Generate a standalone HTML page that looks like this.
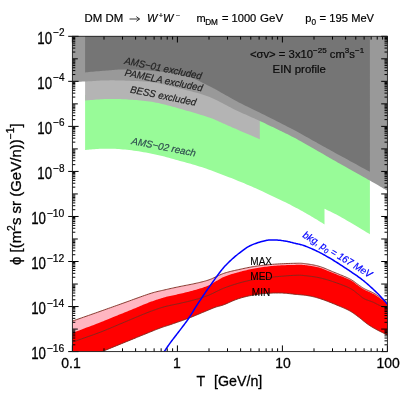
<!DOCTYPE html>
<html><head><meta charset="utf-8"><title>chart</title>
<style>html,body{margin:0;padding:0;background:#fff;width:412px;height:412px;overflow:hidden}</style>
</head><body>
<svg width="412" height="412" viewBox="0 0 412 412" style="position:absolute;left:0;top:0;will-change:transform">
<defs><clipPath id="c"><rect x="72.40" y="36.30" width="315.00" height="315.30"/></clipPath></defs>
<g clip-path="url(#c)">
<polygon fill="#98fb98" points="85.10,95.00 87.07,94.89 89.58,94.72 92.55,94.52 95.89,94.30 99.50,94.06 103.30,93.81 107.20,93.58 111.10,93.37 114.93,93.20 118.58,93.07 121.96,93.00 125.00,93.00 127.67,93.06 130.07,93.14 132.25,93.26 134.29,93.41 136.24,93.59 138.18,93.81 140.16,94.07 142.26,94.37 144.52,94.71 147.02,95.09 149.83,95.52 153.00,96.00 156.54,96.53 160.38,97.11 164.47,97.73 168.78,98.41 173.26,99.12 177.88,99.88 182.58,100.66 187.33,101.48 192.09,102.33 196.82,103.20 201.47,104.09 206.00,105.00 210.54,105.94 215.22,106.92 219.99,107.95 224.81,109.00 229.64,110.08 234.44,111.19 239.15,112.31 243.74,113.44 248.16,114.59 252.38,115.73 256.34,116.87 260.00,118.00 263.28,119.09 266.16,120.14 268.72,121.15 271.04,122.15 273.19,123.15 275.25,124.19 277.30,125.27 279.41,126.41 281.66,127.63 284.12,128.96 286.88,130.41 290.00,132.00 293.53,133.77 297.41,135.71 301.56,137.80 305.93,140.00 310.43,142.29 315.01,144.62 319.58,146.98 324.08,149.33 328.44,151.64 332.60,153.87 336.47,156.01 340.00,158.00 343.29,159.94 346.49,161.91 349.59,163.89 352.56,165.85 355.40,167.77 358.07,169.62 360.58,171.39 362.89,173.04 365.00,174.55 366.88,175.89 368.52,177.05 369.90,178.00 369.90,234.25 369.90,234.25 368.41,233.36 366.48,232.20 364.19,230.83 361.61,229.28 358.83,227.61 355.92,225.86 352.95,224.09 350.01,222.33 347.16,220.65 344.50,219.09 342.08,217.69 340.00,216.50 338.15,215.48 336.40,214.54 334.75,213.68 333.19,212.89 331.74,212.17 330.38,211.52 329.13,210.92 327.99,210.39 326.95,209.91 326.02,209.48 325.20,209.09 324.50,208.75 324.50,224.40 323.82,223.98 322.99,223.47 322.02,222.87 320.94,222.20 319.76,221.47 318.50,220.69 317.17,219.87 315.78,219.02 314.35,218.16 312.90,217.30 311.45,216.44 310.00,215.60 308.56,214.77 307.10,213.93 305.62,213.08 304.11,212.22 302.56,211.34 300.97,210.44 299.32,209.53 297.61,208.59 295.83,207.63 293.98,206.65 292.03,205.64 290.00,204.60 287.83,203.51 285.51,202.36 283.06,201.16 280.52,199.93 277.91,198.67 275.25,197.41 272.58,196.14 269.93,194.89 267.31,193.67 264.77,192.49 262.32,191.36 260.00,190.30 257.81,189.31 255.72,188.36 253.72,187.47 251.78,186.61 249.88,185.78 248.00,184.97 246.12,184.17 244.22,183.37 242.28,182.56 240.28,181.73 238.19,180.88 236.00,180.00 233.70,179.08 231.30,178.12 228.83,177.14 226.30,176.14 223.72,175.14 221.12,174.14 218.52,173.14 215.93,172.17 213.36,171.22 210.84,170.30 208.38,169.42 206.00,168.60 203.70,167.83 201.45,167.09 199.24,166.40 197.07,165.73 194.93,165.09 192.81,164.47 190.70,163.87 188.59,163.28 186.48,162.69 184.34,162.10 182.19,161.51 180.00,160.90 177.79,160.28 175.57,159.66 173.34,159.04 171.11,158.41 168.87,157.80 166.62,157.19 164.37,156.59 162.11,156.01 159.84,155.44 157.57,154.90 155.29,154.39 153.00,153.90 150.68,153.44 148.32,152.99 145.93,152.56 143.52,152.14 141.10,151.74 138.69,151.37 136.29,151.01 133.93,150.68 131.60,150.37 129.33,150.09 127.13,149.83 125.00,149.60 122.94,149.40 120.94,149.23 118.98,149.08 117.07,148.97 115.20,148.87 113.37,148.80 111.57,148.75 109.81,148.71 108.07,148.69 106.36,148.68 104.67,148.69 103.00,148.70 101.31,148.74 99.57,148.80 97.82,148.90 96.07,149.02 94.34,149.15 92.67,149.29 91.08,149.44 89.59,149.58 88.22,149.71 87.00,149.83 85.95,149.93 85.10,150.00"/>
<polygon fill="#b4b4b4" points="85.10,36.30 85.10,100.50 86.13,100.42 87.41,100.31 88.92,100.18 90.61,100.04 92.45,99.88 94.40,99.72 96.43,99.56 98.49,99.41 100.55,99.27 102.59,99.15 104.55,99.06 106.40,99.00 108.18,98.96 109.93,98.94 111.67,98.93 113.41,98.94 115.15,98.96 116.90,98.99 118.67,99.03 120.46,99.10 122.28,99.17 124.14,99.27 126.04,99.37 128.00,99.50 130.01,99.63 132.07,99.77 134.17,99.92 136.30,100.07 138.46,100.25 140.66,100.44 142.87,100.65 145.10,100.89 147.34,101.16 149.59,101.47 151.85,101.81 154.10,102.20 156.36,102.63 158.66,103.12 160.97,103.64 163.30,104.20 165.64,104.79 167.99,105.41 170.34,106.04 172.69,106.69 175.04,107.34 177.38,108.00 179.70,108.66 182.00,109.30 184.33,109.95 186.72,110.63 189.16,111.34 191.61,112.05 194.06,112.78 196.48,113.50 198.84,114.22 201.13,114.93 203.33,115.61 205.40,116.28 207.33,116.91 209.10,117.50 210.68,118.05 212.10,118.57 213.37,119.06 214.51,119.53 215.57,119.98 216.54,120.41 217.47,120.84 218.37,121.26 219.27,121.68 220.20,122.11 221.16,122.55 222.20,123.00 223.24,123.45 224.21,123.87 225.14,124.28 226.04,124.67 226.95,125.07 227.87,125.48 228.83,125.91 229.86,126.36 230.96,126.85 232.18,127.38 233.51,127.96 235.00,128.60 236.73,129.34 238.73,130.20 240.94,131.15 243.30,132.16 245.74,133.20 248.20,134.25 250.62,135.28 252.93,136.27 255.06,137.18 256.96,137.99 258.56,138.67 259.80,139.20 259.80,36.30"/>
<polygon fill="#999999" points="72.40,36.30 72.40,81.80 72.99,81.79 73.68,81.78 74.48,81.76 75.37,81.75 76.36,81.74 77.42,81.72 78.56,81.70 79.76,81.67 81.02,81.64 82.34,81.60 83.70,81.55 85.10,81.50 86.57,81.43 88.13,81.35 89.77,81.25 91.48,81.14 93.25,81.02 95.07,80.91 96.93,80.79 98.81,80.69 100.71,80.59 102.62,80.51 104.52,80.44 106.40,80.40 108.28,80.38 110.19,80.36 112.13,80.36 114.08,80.37 116.04,80.39 118.03,80.42 120.01,80.47 122.01,80.51 124.01,80.57 126.01,80.64 128.01,80.72 130.00,80.80 131.98,80.88 133.94,80.95 135.90,81.02 137.86,81.09 139.81,81.17 141.78,81.27 143.76,81.39 145.77,81.53 147.80,81.71 149.86,81.92 151.96,82.19 154.10,82.50 156.29,82.87 158.54,83.29 160.83,83.76 163.15,84.26 165.50,84.80 167.86,85.37 170.24,85.96 172.62,86.56 174.99,87.17 177.35,87.79 179.69,88.40 182.00,89.00 184.29,89.59 186.58,90.17 188.86,90.74 191.14,91.31 193.41,91.90 195.67,92.50 197.93,93.12 200.19,93.77 202.43,94.46 204.66,95.19 206.89,95.97 209.10,96.80 211.30,97.70 213.50,98.67 215.69,99.71 217.86,100.79 220.03,101.90 222.20,103.04 224.35,104.19 226.50,105.34 228.63,106.47 230.76,107.59 232.89,108.67 235.00,109.70 237.12,110.70 239.26,111.69 241.40,112.67 243.55,113.64 245.69,114.59 247.81,115.54 249.91,116.47 251.97,117.39 254.00,118.29 255.97,119.17 257.89,120.05 259.75,120.90 261.54,121.74 263.27,122.55 264.96,123.35 266.59,124.13 268.19,124.89 269.75,125.64 271.29,126.39 272.79,127.12 274.28,127.84 275.76,128.57 277.23,129.28 278.70,130.00 280.12,130.69 281.47,131.34 282.76,131.95 284.01,132.55 285.24,133.14 286.47,133.73 287.73,134.34 289.02,134.99 290.38,135.67 291.81,136.41 293.35,137.21 295.00,138.10 296.79,139.08 298.72,140.14 300.76,141.28 302.87,142.48 305.05,143.72 307.27,144.99 309.50,146.27 311.71,147.54 313.90,148.80 316.02,150.02 318.06,151.19 320.00,152.30 321.81,153.34 323.51,154.31 325.12,155.24 326.67,156.14 328.19,157.01 329.69,157.89 331.22,158.77 332.79,159.67 334.42,160.62 336.15,161.61 338.00,162.66 340.00,163.80 342.18,165.04 344.55,166.37 347.07,167.78 349.69,169.25 352.38,170.76 355.11,172.28 357.82,173.80 360.49,175.29 363.06,176.74 365.52,178.12 367.81,179.41 369.90,180.60 371.85,181.71 373.74,182.80 375.56,183.85 377.30,184.87 378.96,185.83 380.52,186.75 381.98,187.61 383.32,188.40 384.55,189.12 385.64,189.77 386.59,190.33 387.40,190.80 387.40,36.30"/>
<polygon fill="#757575" points="85.10,36.30 85.10,72.40 86.14,72.31 87.45,72.18 88.99,72.04 90.72,71.87 92.60,71.70 94.59,71.51 96.64,71.32 98.71,71.14 100.77,70.96 102.76,70.79 104.65,70.63 106.40,70.50 108.01,70.38 109.54,70.25 111.00,70.13 112.41,70.01 113.81,69.89 115.22,69.79 116.65,69.69 118.13,69.61 119.68,69.55 121.33,69.51 123.09,69.49 125.00,69.50 127.05,69.53 129.21,69.57 131.47,69.63 133.82,69.70 136.24,69.80 138.72,69.91 141.25,70.04 143.80,70.19 146.37,70.36 148.93,70.55 151.48,70.76 154.00,71.00 156.54,71.25 159.13,71.51 161.77,71.77 164.44,72.06 167.12,72.36 169.81,72.69 172.47,73.05 175.10,73.44 177.69,73.88 180.21,74.37 182.65,74.91 185.00,75.50 187.28,76.17 189.53,76.93 191.73,77.76 193.90,78.65 196.01,79.58 198.08,80.53 200.08,81.50 202.03,82.46 203.90,83.41 205.71,84.33 207.45,85.19 209.10,86.00 210.64,86.75 212.06,87.47 213.38,88.15 214.61,88.81 215.77,89.46 216.89,90.09 217.98,90.72 219.06,91.35 220.15,91.99 221.28,92.64 222.45,93.31 223.70,94.00 224.97,94.71 226.23,95.41 227.47,96.11 228.72,96.82 229.98,97.54 231.26,98.26 232.57,99.00 233.93,99.76 235.34,100.53 236.81,101.33 238.36,102.15 240.00,103.00 241.71,103.87 243.49,104.76 245.32,105.66 247.20,106.58 249.14,107.52 251.14,108.48 253.18,109.46 255.27,110.47 257.41,111.50 259.60,112.57 261.83,113.67 264.10,114.80 266.46,115.98 268.92,117.22 271.49,118.51 274.11,119.84 276.79,121.20 279.49,122.57 282.20,123.95 284.89,125.33 287.53,126.69 290.11,128.03 292.61,129.34 295.00,130.60 297.31,131.83 299.57,133.06 301.78,134.28 303.96,135.48 306.09,136.67 308.18,137.85 310.24,139.01 312.26,140.15 314.24,141.27 316.19,142.37 318.11,143.45 320.00,144.50 321.81,145.50 323.51,146.44 325.12,147.33 326.67,148.19 328.19,149.02 329.69,149.85 331.22,150.69 332.79,151.55 334.42,152.45 336.15,153.39 338.00,154.41 340.00,155.50 342.24,156.72 344.76,158.10 347.48,159.58 350.34,161.14 353.27,162.74 356.20,164.34 359.06,165.90 361.78,167.38 364.30,168.75 366.53,169.97 368.42,171.00 369.90,171.80 369.90,36.30"/>
<polygon fill="#ffb6c1" points="50.00,329.00 51.07,328.62 52.38,328.16 53.90,327.62 55.61,327.02 57.48,326.36 59.48,325.66 61.56,324.92 63.72,324.16 65.91,323.39 68.11,322.61 70.28,321.85 72.40,321.10 74.53,320.35 76.73,319.58 79.00,318.78 81.31,317.97 83.66,317.15 86.04,316.31 88.42,315.48 90.80,314.64 93.16,313.81 95.49,312.99 97.77,312.19 100.00,311.40 102.17,310.63 104.32,309.87 106.43,309.12 108.53,308.37 110.60,307.63 112.66,306.90 114.71,306.17 116.76,305.44 118.81,304.71 120.86,303.97 122.92,303.24 125.00,302.50 127.12,301.74 129.28,300.96 131.48,300.16 133.70,299.34 135.92,298.53 138.12,297.73 140.29,296.95 142.41,296.19 144.45,295.47 146.41,294.79 148.27,294.16 150.00,293.60 151.60,293.10 153.08,292.67 154.45,292.28 155.74,291.94 156.96,291.63 158.12,291.35 159.26,291.09 160.37,290.84 161.48,290.60 162.62,290.35 163.78,290.08 165.00,289.80 166.25,289.51 167.50,289.22 168.75,288.93 170.00,288.65 171.25,288.37 172.50,288.10 173.75,287.83 175.00,287.56 176.25,287.29 177.50,287.03 178.75,286.76 180.00,286.50 181.25,286.24 182.51,285.99 183.77,285.75 185.03,285.50 186.30,285.26 187.56,285.03 188.81,284.78 190.07,284.54 191.31,284.29 192.55,284.04 193.78,283.77 195.00,283.50 196.20,283.22 197.40,282.96 198.58,282.69 199.75,282.42 200.91,282.14 202.08,281.86 203.24,281.57 204.40,281.26 205.56,280.93 206.73,280.58 207.91,280.21 209.10,279.80 210.29,279.35 211.48,278.86 212.68,278.34 213.87,277.78 215.06,277.21 216.26,276.62 217.47,276.04 218.69,275.46 219.92,274.90 221.16,274.36 222.42,273.86 223.70,273.40 225.00,272.97 226.32,272.57 227.66,272.19 229.02,271.83 230.39,271.48 231.76,271.14 233.14,270.82 234.53,270.51 235.91,270.20 237.28,269.90 238.65,269.60 240.00,269.30 241.34,269.00 242.66,268.71 243.97,268.43 245.27,268.15 246.57,267.88 247.87,267.62 249.19,267.36 250.51,267.11 251.85,266.87 253.20,266.64 254.59,266.42 256.00,266.20 257.44,265.99 258.89,265.79 260.36,265.60 261.84,265.41 263.34,265.23 264.86,265.06 266.39,264.90 267.94,264.74 269.50,264.60 271.08,264.46 272.68,264.32 274.30,264.20 275.98,264.08 277.74,263.97 279.57,263.87 281.43,263.77 283.32,263.69 285.19,263.61 287.04,263.53 288.83,263.47 290.55,263.41 292.16,263.37 293.66,263.33 295.00,263.30 296.17,263.28 297.19,263.25 298.07,263.23 298.84,263.22 299.54,263.22 300.19,263.23 300.81,263.24 301.45,263.28 302.12,263.33 302.84,263.40 303.66,263.49 304.60,263.60 305.64,263.73 306.73,263.88 307.88,264.03 309.07,264.21 310.29,264.40 311.54,264.61 312.80,264.83 314.08,265.08 315.35,265.35 316.62,265.64 317.87,265.96 319.10,266.30 320.31,266.67 321.51,267.08 322.71,267.51 323.91,267.97 325.11,268.45 326.31,268.95 327.52,269.46 328.73,269.99 329.96,270.51 331.19,271.05 332.44,271.58 333.70,272.10 335.00,272.63 336.36,273.18 337.76,273.74 339.18,274.30 340.61,274.88 342.04,275.46 343.44,276.03 344.81,276.61 346.12,277.17 347.37,277.73 348.53,278.27 349.60,278.80 350.57,279.32 351.46,279.83 352.28,280.33 353.04,280.83 353.75,281.33 354.41,281.81 355.04,282.29 355.65,282.76 356.24,283.21 356.82,283.65 357.40,284.08 358.00,284.50 358.58,284.90 359.12,285.28 359.62,285.64 360.10,285.99 360.57,286.32 361.03,286.65 361.48,286.97 361.95,287.29 362.44,287.61 362.95,287.94 363.50,288.26 364.10,288.60 364.75,288.94 365.45,289.29 366.18,289.64 366.94,289.99 367.73,290.33 368.52,290.68 369.31,291.03 370.09,291.37 370.85,291.71 371.58,292.05 372.26,292.38 372.90,292.70 373.48,293.01 374.01,293.30 374.49,293.57 374.95,293.84 375.38,294.10 375.81,294.36 376.23,294.63 376.66,294.92 377.12,295.22 377.60,295.55 378.12,295.91 378.70,296.30 379.33,296.74 379.99,297.22 380.70,297.74 381.43,298.29 382.18,298.86 382.94,299.43 383.71,300.01 384.47,300.58 385.23,301.13 385.98,301.66 386.70,302.15 387.40,302.60 388.10,303.02 388.82,303.43 389.56,303.84 390.30,304.22 391.03,304.59 391.74,304.94 392.43,305.27 393.07,305.58 393.66,305.86 394.19,306.10 394.64,306.32 395.00,306.50 395.00,338.80 394.64,338.62 394.22,338.41 393.72,338.16 393.17,337.89 392.56,337.58 391.91,337.26 391.22,336.91 390.50,336.55 389.75,336.17 388.97,335.79 388.19,335.40 387.40,335.00 386.57,334.59 385.69,334.16 384.75,333.70 383.78,333.23 382.78,332.74 381.76,332.24 380.74,331.74 379.73,331.24 378.74,330.74 377.78,330.25 376.86,329.77 376.00,329.30 375.19,328.85 374.41,328.41 373.66,327.99 372.93,327.57 372.23,327.15 371.54,326.73 370.86,326.31 370.18,325.88 369.50,325.44 368.81,324.98 368.11,324.50 367.40,324.00 366.67,323.47 365.95,322.92 365.22,322.35 364.49,321.76 363.76,321.16 363.02,320.56 362.29,319.95 361.56,319.34 360.82,318.73 360.08,318.14 359.34,317.56 358.60,317.00 357.86,316.45 357.14,315.91 356.42,315.37 355.70,314.83 354.98,314.30 354.26,313.78 353.52,313.26 352.78,312.76 352.02,312.25 351.24,311.76 350.43,311.28 349.60,310.80 348.75,310.34 347.91,309.90 347.05,309.48 346.19,309.07 345.31,308.66 344.41,308.26 343.48,307.86 342.52,307.46 341.53,307.04 340.50,306.61 339.42,306.17 338.30,305.70 337.11,305.20 335.83,304.67 334.50,304.12 333.11,303.55 331.69,302.97 330.25,302.39 328.80,301.82 327.37,301.26 325.95,300.72 324.58,300.21 323.26,299.73 322.00,299.30 320.81,298.91 319.67,298.54 318.56,298.20 317.49,297.88 316.44,297.58 315.41,297.30 314.39,297.04 313.36,296.79 312.33,296.55 311.28,296.33 310.21,296.11 309.10,295.90 307.97,295.70 306.83,295.53 305.68,295.37 304.52,295.22 303.36,295.09 302.18,294.97 301.00,294.85 299.81,294.74 298.62,294.64 297.42,294.53 296.21,294.42 295.00,294.30 293.80,294.17 292.61,294.04 291.43,293.90 290.25,293.76 289.07,293.62 287.87,293.49 286.65,293.36 285.40,293.25 284.12,293.16 282.80,293.08 281.43,293.03 280.00,293.00 278.51,292.99 276.96,293.00 275.35,293.01 273.70,293.04 272.02,293.09 270.31,293.16 268.59,293.24 266.85,293.34 265.12,293.47 263.39,293.62 261.68,293.80 260.00,294.00 258.32,294.23 256.62,294.49 254.91,294.77 253.20,295.07 251.48,295.40 249.77,295.75 248.07,296.12 246.39,296.50 244.74,296.91 243.12,297.32 241.54,297.76 240.00,298.20 238.49,298.68 236.98,299.21 235.49,299.78 234.01,300.37 232.56,300.98 231.14,301.60 229.77,302.21 228.43,302.81 227.15,303.38 225.93,303.90 224.78,304.38 223.70,304.80 222.72,305.15 221.86,305.43 221.08,305.67 220.39,305.87 219.74,306.04 219.12,306.19 218.52,306.33 217.91,306.49 217.28,306.66 216.59,306.86 215.84,307.11 215.00,307.40 214.09,307.74 213.13,308.11 212.14,308.50 211.12,308.92 210.07,309.35 208.99,309.80 207.90,310.26 206.79,310.73 205.67,311.20 204.55,311.67 203.42,312.14 202.30,312.60 201.18,313.06 200.06,313.53 198.93,314.00 197.79,314.48 196.65,314.96 195.49,315.44 194.31,315.93 193.12,316.42 191.90,316.91 190.66,317.41 189.40,317.90 188.10,318.40 186.75,318.91 185.32,319.43 183.84,319.96 182.32,320.50 180.78,321.05 179.24,321.59 177.70,322.12 176.20,322.64 174.74,323.14 173.34,323.62 172.02,324.08 170.80,324.50 169.68,324.88 168.66,325.22 167.72,325.53 166.84,325.81 166.00,326.08 165.19,326.33 164.40,326.58 163.60,326.84 162.77,327.12 161.91,327.41 160.99,327.74 160.00,328.10 158.95,328.50 157.85,328.92 156.72,329.36 155.57,329.81 154.39,330.29 153.20,330.77 152.00,331.26 150.79,331.75 149.57,332.25 148.37,332.74 147.18,333.22 146.00,333.70 144.88,334.15 143.82,334.58 142.82,334.99 141.83,335.39 140.85,335.79 139.84,336.20 138.79,336.63 137.67,337.09 136.45,337.59 135.11,338.13 133.64,338.73 132.00,339.40 130.18,340.14 128.20,340.95 126.07,341.81 123.83,342.72 121.50,343.67 119.09,344.65 116.64,345.65 114.17,346.66 111.69,347.66 109.24,348.66 106.83,349.65 104.50,350.60 102.21,351.54 99.91,352.48 97.61,353.42 95.31,354.37 93.02,355.32 90.72,356.26 88.42,357.21 86.13,358.15 83.84,359.09 81.55,360.03 79.27,360.97 77.00,361.90 74.65,362.86 72.16,363.88 69.58,364.93 66.96,366.00 64.35,367.06 61.78,368.11 59.31,369.11 56.98,370.06 54.84,370.93 52.93,371.71 51.30,372.37 50.00,372.90"/>
<polygon fill="#ff0000" points="50.00,341.80 51.07,341.38 52.38,340.86 53.90,340.26 55.61,339.58 57.48,338.84 59.48,338.06 61.56,337.23 63.72,336.39 65.91,335.53 68.11,334.67 70.28,333.82 72.40,333.00 74.55,332.17 76.83,331.30 79.21,330.40 81.64,329.48 84.12,328.54 86.60,327.61 89.06,326.68 91.47,325.77 93.79,324.88 96.01,324.04 98.09,323.24 100.00,322.50 101.74,321.82 103.33,321.19 104.79,320.60 106.16,320.05 107.44,319.53 108.66,319.03 109.85,318.53 111.02,318.05 112.20,317.56 113.41,317.06 114.67,316.54 116.00,316.00 117.38,315.44 118.78,314.87 120.18,314.31 121.59,313.73 123.01,313.16 124.44,312.58 125.87,312.00 127.30,311.42 128.73,310.84 130.16,310.26 131.58,309.68 133.00,309.10 134.42,308.51 135.86,307.91 137.30,307.31 138.74,306.70 140.18,306.08 141.62,305.48 143.06,304.87 144.48,304.28 145.89,303.70 147.28,303.15 148.65,302.61 150.00,302.10 151.32,301.61 152.62,301.14 153.89,300.69 155.15,300.26 156.39,299.83 157.62,299.43 158.85,299.03 160.07,298.64 161.30,298.27 162.52,297.91 163.76,297.55 165.00,297.20 166.25,296.87 167.50,296.55 168.75,296.25 170.00,295.97 171.25,295.70 172.50,295.43 173.75,295.17 175.00,294.91 176.25,294.64 177.50,294.37 178.75,294.09 180.00,293.80 181.25,293.50 182.51,293.20 183.77,292.90 185.03,292.60 186.30,292.30 187.56,291.99 188.81,291.67 190.07,291.36 191.31,291.03 192.55,290.70 193.78,290.35 195.00,290.00 196.20,289.65 197.40,289.30 198.58,288.95 199.75,288.60 200.91,288.24 202.08,287.88 203.24,287.49 204.40,287.09 205.56,286.66 206.73,286.21 207.91,285.72 209.10,285.20 210.29,284.63 211.48,284.00 212.68,283.32 213.87,282.61 215.06,281.87 216.26,281.12 217.47,280.38 218.69,279.64 219.92,278.92 221.16,278.23 222.42,277.59 223.70,277.00 225.00,276.46 226.32,275.94 227.66,275.45 229.02,274.99 230.39,274.54 231.76,274.11 233.14,273.70 234.53,273.30 235.91,272.92 237.28,272.54 238.65,272.17 240.00,271.80 241.34,271.44 242.66,271.09 243.97,270.76 245.27,270.44 246.57,270.13 247.87,269.83 249.19,269.53 250.51,269.25 251.85,268.98 253.20,268.71 254.59,268.45 256.00,268.20 257.44,267.95 258.89,267.71 260.36,267.48 261.84,267.26 263.34,267.04 264.86,266.83 266.39,266.63 267.94,266.44 269.50,266.27 271.08,266.10 272.68,265.94 274.30,265.80 275.98,265.67 277.74,265.55 279.57,265.44 281.43,265.35 283.32,265.26 285.19,265.19 287.04,265.12 288.83,265.06 290.55,265.01 292.16,264.97 293.66,264.93 295.00,264.90 296.17,264.87 297.19,264.84 298.07,264.82 298.84,264.80 299.54,264.79 300.19,264.79 300.81,264.80 301.45,264.82 302.12,264.86 302.84,264.92 303.66,265.00 304.60,265.10 305.64,265.22 306.73,265.35 307.88,265.49 309.07,265.64 310.29,265.82 311.54,266.01 312.80,266.22 314.08,266.44 315.35,266.70 316.62,266.97 317.87,267.27 319.10,267.60 320.31,267.96 321.51,268.36 322.71,268.78 323.91,269.23 325.11,269.71 326.31,270.20 327.52,270.71 328.73,271.22 329.96,271.74 331.19,272.27 332.44,272.79 333.70,273.30 335.00,273.82 336.36,274.35 337.76,274.89 339.18,275.44 340.61,275.99 342.04,276.55 343.44,277.11 344.81,277.66 346.12,278.21 347.37,278.75 348.53,279.28 349.60,279.80 350.57,280.31 351.46,280.81 352.28,281.32 353.04,281.82 353.75,282.31 354.41,282.80 355.04,283.28 355.65,283.75 356.24,284.21 356.82,284.65 357.40,285.08 358.00,285.50 358.58,285.90 359.12,286.28 359.62,286.64 360.10,286.99 360.57,287.32 361.03,287.65 361.48,287.97 361.95,288.29 362.44,288.61 362.95,288.94 363.50,289.26 364.10,289.60 364.75,289.94 365.45,290.29 366.18,290.64 366.94,290.99 367.73,291.33 368.52,291.68 369.31,292.03 370.09,292.37 370.85,292.71 371.58,293.05 372.26,293.38 372.90,293.70 373.48,294.01 374.01,294.30 374.49,294.58 374.95,294.84 375.38,295.11 375.81,295.38 376.23,295.65 376.66,295.93 377.12,296.24 377.60,296.56 378.12,296.91 378.70,297.30 379.33,297.73 379.99,298.20 380.70,298.70 381.43,299.23 382.18,299.78 382.94,300.33 383.71,300.89 384.47,301.44 385.23,301.97 385.98,302.48 386.70,302.96 387.40,303.40 388.10,303.81 388.82,304.22 389.56,304.62 390.30,305.01 391.03,305.38 391.74,305.73 392.43,306.06 393.07,306.37 393.66,306.65 394.19,306.90 394.64,307.12 395.00,307.30 395.00,338.80 394.64,338.62 394.22,338.41 393.72,338.16 393.17,337.89 392.56,337.58 391.91,337.26 391.22,336.91 390.50,336.55 389.75,336.17 388.97,335.79 388.19,335.40 387.40,335.00 386.57,334.59 385.69,334.16 384.75,333.70 383.78,333.23 382.78,332.74 381.76,332.24 380.74,331.74 379.73,331.24 378.74,330.74 377.78,330.25 376.86,329.77 376.00,329.30 375.19,328.85 374.41,328.41 373.66,327.99 372.93,327.57 372.23,327.15 371.54,326.73 370.86,326.31 370.18,325.88 369.50,325.44 368.81,324.98 368.11,324.50 367.40,324.00 366.67,323.47 365.95,322.92 365.22,322.35 364.49,321.76 363.76,321.16 363.02,320.56 362.29,319.95 361.56,319.34 360.82,318.73 360.08,318.14 359.34,317.56 358.60,317.00 357.86,316.45 357.14,315.91 356.42,315.37 355.70,314.83 354.98,314.30 354.26,313.78 353.52,313.26 352.78,312.76 352.02,312.25 351.24,311.76 350.43,311.28 349.60,310.80 348.75,310.34 347.91,309.90 347.05,309.48 346.19,309.07 345.31,308.66 344.41,308.26 343.48,307.86 342.52,307.46 341.53,307.04 340.50,306.61 339.42,306.17 338.30,305.70 337.11,305.20 335.83,304.67 334.50,304.12 333.11,303.55 331.69,302.97 330.25,302.39 328.80,301.82 327.37,301.26 325.95,300.72 324.58,300.21 323.26,299.73 322.00,299.30 320.81,298.91 319.67,298.54 318.56,298.20 317.49,297.88 316.44,297.58 315.41,297.30 314.39,297.04 313.36,296.79 312.33,296.55 311.28,296.33 310.21,296.11 309.10,295.90 307.97,295.70 306.83,295.53 305.68,295.37 304.52,295.22 303.36,295.09 302.18,294.97 301.00,294.85 299.81,294.74 298.62,294.64 297.42,294.53 296.21,294.42 295.00,294.30 293.80,294.17 292.61,294.04 291.43,293.90 290.25,293.76 289.07,293.62 287.87,293.49 286.65,293.36 285.40,293.25 284.12,293.16 282.80,293.08 281.43,293.03 280.00,293.00 278.51,292.99 276.96,293.00 275.35,293.01 273.70,293.04 272.02,293.09 270.31,293.16 268.59,293.24 266.85,293.34 265.12,293.47 263.39,293.62 261.68,293.80 260.00,294.00 258.32,294.23 256.62,294.49 254.91,294.77 253.20,295.07 251.48,295.40 249.77,295.75 248.07,296.12 246.39,296.50 244.74,296.91 243.12,297.32 241.54,297.76 240.00,298.20 238.49,298.68 236.98,299.21 235.49,299.78 234.01,300.37 232.56,300.98 231.14,301.60 229.77,302.21 228.43,302.81 227.15,303.38 225.93,303.90 224.78,304.38 223.70,304.80 222.72,305.15 221.86,305.43 221.08,305.67 220.39,305.87 219.74,306.04 219.12,306.19 218.52,306.33 217.91,306.49 217.28,306.66 216.59,306.86 215.84,307.11 215.00,307.40 214.09,307.74 213.13,308.11 212.14,308.50 211.12,308.92 210.07,309.35 208.99,309.80 207.90,310.26 206.79,310.73 205.67,311.20 204.55,311.67 203.42,312.14 202.30,312.60 201.18,313.06 200.06,313.53 198.93,314.00 197.79,314.48 196.65,314.96 195.49,315.44 194.31,315.93 193.12,316.42 191.90,316.91 190.66,317.41 189.40,317.90 188.10,318.40 186.75,318.91 185.32,319.43 183.84,319.96 182.32,320.50 180.78,321.05 179.24,321.59 177.70,322.12 176.20,322.64 174.74,323.14 173.34,323.62 172.02,324.08 170.80,324.50 169.68,324.88 168.66,325.22 167.72,325.53 166.84,325.81 166.00,326.08 165.19,326.33 164.40,326.58 163.60,326.84 162.77,327.12 161.91,327.41 160.99,327.74 160.00,328.10 158.95,328.50 157.85,328.92 156.72,329.36 155.57,329.81 154.39,330.29 153.20,330.77 152.00,331.26 150.79,331.75 149.57,332.25 148.37,332.74 147.18,333.22 146.00,333.70 144.88,334.15 143.82,334.58 142.82,334.99 141.83,335.39 140.85,335.79 139.84,336.20 138.79,336.63 137.67,337.09 136.45,337.59 135.11,338.13 133.64,338.73 132.00,339.40 130.18,340.14 128.20,340.95 126.07,341.81 123.83,342.72 121.50,343.67 119.09,344.65 116.64,345.65 114.17,346.66 111.69,347.66 109.24,348.66 106.83,349.65 104.50,350.60 102.21,351.54 99.91,352.48 97.61,353.42 95.31,354.37 93.02,355.32 90.72,356.26 88.42,357.21 86.13,358.15 83.84,359.09 81.55,360.03 79.27,360.97 77.00,361.90 74.65,362.86 72.16,363.88 69.58,364.93 66.96,366.00 64.35,367.06 61.78,368.11 59.31,369.11 56.98,370.06 54.84,370.93 52.93,371.71 51.30,372.37 50.00,372.90"/>
<polyline fill="none" stroke="#7a2a1e" stroke-width="0.9" points="50.00,329.00 51.07,328.62 52.38,328.16 53.90,327.62 55.61,327.02 57.48,326.36 59.48,325.66 61.56,324.92 63.72,324.16 65.91,323.39 68.11,322.61 70.28,321.85 72.40,321.10 74.53,320.35 76.73,319.58 79.00,318.78 81.31,317.97 83.66,317.15 86.04,316.31 88.42,315.48 90.80,314.64 93.16,313.81 95.49,312.99 97.77,312.19 100.00,311.40 102.17,310.63 104.32,309.87 106.43,309.12 108.53,308.37 110.60,307.63 112.66,306.90 114.71,306.17 116.76,305.44 118.81,304.71 120.86,303.97 122.92,303.24 125.00,302.50 127.12,301.74 129.28,300.96 131.48,300.16 133.70,299.34 135.92,298.53 138.12,297.73 140.29,296.95 142.41,296.19 144.45,295.47 146.41,294.79 148.27,294.16 150.00,293.60 151.60,293.10 153.08,292.67 154.45,292.28 155.74,291.94 156.96,291.63 158.12,291.35 159.26,291.09 160.37,290.84 161.48,290.60 162.62,290.35 163.78,290.08 165.00,289.80 166.25,289.51 167.50,289.22 168.75,288.93 170.00,288.65 171.25,288.37 172.50,288.10 173.75,287.83 175.00,287.56 176.25,287.29 177.50,287.03 178.75,286.76 180.00,286.50 181.25,286.24 182.51,285.99 183.77,285.75 185.03,285.50 186.30,285.26 187.56,285.03 188.81,284.78 190.07,284.54 191.31,284.29 192.55,284.04 193.78,283.77 195.00,283.50 196.20,283.22 197.40,282.96 198.58,282.69 199.75,282.42 200.91,282.14 202.08,281.86 203.24,281.57 204.40,281.26 205.56,280.93 206.73,280.58 207.91,280.21 209.10,279.80 210.29,279.35 211.48,278.86 212.68,278.34 213.87,277.78 215.06,277.21 216.26,276.62 217.47,276.04 218.69,275.46 219.92,274.90 221.16,274.36 222.42,273.86 223.70,273.40 225.00,272.97 226.32,272.57 227.66,272.19 229.02,271.83 230.39,271.48 231.76,271.14 233.14,270.82 234.53,270.51 235.91,270.20 237.28,269.90 238.65,269.60 240.00,269.30 241.34,269.00 242.66,268.71 243.97,268.43 245.27,268.15 246.57,267.88 247.87,267.62 249.19,267.36 250.51,267.11 251.85,266.87 253.20,266.64 254.59,266.42 256.00,266.20 257.44,265.99 258.89,265.79 260.36,265.60 261.84,265.41 263.34,265.23 264.86,265.06 266.39,264.90 267.94,264.74 269.50,264.60 271.08,264.46 272.68,264.32 274.30,264.20 275.98,264.08 277.74,263.97 279.57,263.87 281.43,263.77 283.32,263.69 285.19,263.61 287.04,263.53 288.83,263.47 290.55,263.41 292.16,263.37 293.66,263.33 295.00,263.30 296.17,263.28 297.19,263.25 298.07,263.23 298.84,263.22 299.54,263.22 300.19,263.23 300.81,263.24 301.45,263.28 302.12,263.33 302.84,263.40 303.66,263.49 304.60,263.60 305.64,263.73 306.73,263.88 307.88,264.03 309.07,264.21 310.29,264.40 311.54,264.61 312.80,264.83 314.08,265.08 315.35,265.35 316.62,265.64 317.87,265.96 319.10,266.30 320.31,266.67 321.51,267.08 322.71,267.51 323.91,267.97 325.11,268.45 326.31,268.95 327.52,269.46 328.73,269.99 329.96,270.51 331.19,271.05 332.44,271.58 333.70,272.10 335.00,272.63 336.36,273.18 337.76,273.74 339.18,274.30 340.61,274.88 342.04,275.46 343.44,276.03 344.81,276.61 346.12,277.17 347.37,277.73 348.53,278.27 349.60,278.80 350.57,279.32 351.46,279.83 352.28,280.33 353.04,280.83 353.75,281.33 354.41,281.81 355.04,282.29 355.65,282.76 356.24,283.21 356.82,283.65 357.40,284.08 358.00,284.50 358.58,284.90 359.12,285.28 359.62,285.64 360.10,285.99 360.57,286.32 361.03,286.65 361.48,286.97 361.95,287.29 362.44,287.61 362.95,287.94 363.50,288.26 364.10,288.60 364.75,288.94 365.45,289.29 366.18,289.64 366.94,289.99 367.73,290.33 368.52,290.68 369.31,291.03 370.09,291.37 370.85,291.71 371.58,292.05 372.26,292.38 372.90,292.70 373.48,293.01 374.01,293.30 374.49,293.57 374.95,293.84 375.38,294.10 375.81,294.36 376.23,294.63 376.66,294.92 377.12,295.22 377.60,295.55 378.12,295.91 378.70,296.30 379.33,296.74 379.99,297.22 380.70,297.74 381.43,298.29 382.18,298.86 382.94,299.43 383.71,300.01 384.47,300.58 385.23,301.13 385.98,301.66 386.70,302.15 387.40,302.60 388.10,303.02 388.82,303.43 389.56,303.84 390.30,304.22 391.03,304.59 391.74,304.94 392.43,305.27 393.07,305.58 393.66,305.86 394.19,306.10 394.64,306.32 395.00,306.50"/>
<polyline fill="none" stroke="#7a2a1e" stroke-width="0.9" points="50.00,351.00 51.07,350.58 52.38,350.06 53.90,349.44 55.61,348.76 57.48,348.01 59.48,347.22 61.56,346.39 63.72,345.54 65.91,344.68 68.11,343.83 70.28,343.00 72.40,342.20 74.54,341.41 76.78,340.60 79.09,339.77 81.46,338.94 83.87,338.09 86.29,337.24 88.70,336.40 91.10,335.55 93.44,334.72 95.72,333.89 97.91,333.09 100.00,332.30 101.98,331.53 103.88,330.78 105.71,330.05 107.48,329.32 109.21,328.60 110.90,327.89 112.57,327.18 114.23,326.47 115.89,325.76 117.56,325.05 119.26,324.33 121.00,323.60 122.79,322.85 124.63,322.08 126.50,321.29 128.39,320.49 130.27,319.69 132.15,318.90 133.99,318.12 135.79,317.36 137.53,316.63 139.19,315.94 140.75,315.30 142.20,314.70 143.54,314.16 144.77,313.66 145.92,313.20 146.99,312.77 148.00,312.38 148.96,312.01 149.89,311.65 150.79,311.31 151.67,310.99 152.56,310.66 153.47,310.33 154.40,310.00 155.33,309.67 156.21,309.36 157.06,309.06 157.89,308.77 158.71,308.49 159.53,308.21 160.35,307.94 161.20,307.68 162.08,307.41 163.00,307.15 163.97,306.88 165.00,306.60 166.10,306.32 167.25,306.05 168.44,305.78 169.67,305.50 170.94,305.23 172.22,304.96 173.53,304.69 174.84,304.42 176.15,304.14 177.45,303.87 178.74,303.59 180.00,303.30 181.25,303.01 182.51,302.73 183.77,302.45 185.03,302.16 186.30,301.88 187.56,301.59 188.81,301.29 190.07,300.99 191.31,300.68 192.55,300.37 193.78,300.04 195.00,299.70 196.20,299.35 197.40,299.00 198.58,298.65 199.75,298.29 200.91,297.93 202.08,297.55 203.24,297.16 204.40,296.76 205.56,296.35 206.73,295.92 207.91,295.47 209.10,295.00 210.29,294.50 211.48,293.97 212.68,293.41 213.87,292.84 215.06,292.24 216.26,291.64 217.47,291.04 218.69,290.44 219.92,289.85 221.16,289.28 222.42,288.72 223.70,288.20 225.00,287.70 226.32,287.20 227.66,286.71 229.02,286.23 230.39,285.76 231.76,285.30 233.14,284.85 234.53,284.41 235.91,283.99 237.28,283.58 238.65,283.18 240.00,282.80 241.34,282.43 242.66,282.08 243.97,281.74 245.27,281.42 246.57,281.11 247.87,280.81 249.19,280.52 250.51,280.24 251.85,279.97 253.20,279.70 254.59,279.45 256.00,279.20 257.44,278.96 258.89,278.73 260.36,278.52 261.84,278.31 263.34,278.11 264.86,277.92 266.39,277.74 267.94,277.57 269.50,277.40 271.08,277.23 272.68,277.06 274.30,276.90 275.98,276.74 277.74,276.57 279.57,276.41 281.43,276.24 283.32,276.09 285.19,275.94 287.04,275.80 288.83,275.67 290.55,275.55 292.16,275.45 293.66,275.36 295.00,275.30 296.17,275.25 297.19,275.22 298.07,275.20 298.84,275.19 299.54,275.20 300.19,275.22 300.81,275.25 301.45,275.30 302.12,275.35 302.84,275.42 303.66,275.51 304.60,275.60 305.64,275.71 306.73,275.82 307.88,275.95 309.07,276.09 310.29,276.24 311.54,276.41 312.80,276.58 314.08,276.78 315.35,276.99 316.62,277.21 317.87,277.45 319.10,277.70 320.31,277.97 321.51,278.26 322.71,278.56 323.91,278.87 325.11,279.20 326.31,279.54 327.52,279.90 328.73,280.27 329.96,280.66 331.19,281.06 332.44,281.47 333.70,281.90 335.00,282.35 336.36,282.82 337.76,283.32 339.18,283.83 340.61,284.36 342.04,284.89 343.44,285.44 344.81,285.98 346.12,286.52 347.37,287.06 348.53,287.59 349.60,288.10 350.57,288.61 351.46,289.11 352.28,289.62 353.04,290.13 353.75,290.64 354.41,291.14 355.04,291.64 355.65,292.13 356.24,292.62 356.82,293.09 357.40,293.55 358.00,294.00 358.58,294.44 359.12,294.87 359.62,295.29 360.10,295.70 360.57,296.11 361.03,296.51 361.48,296.89 361.95,297.27 362.44,297.64 362.95,298.01 363.50,298.36 364.10,298.70 364.75,299.03 365.45,299.35 366.18,299.65 366.94,299.95 367.73,300.23 368.52,300.51 369.31,300.78 370.09,301.05 370.85,301.32 371.58,301.58 372.26,301.84 372.90,302.10 373.48,302.36 374.01,302.60 374.49,302.84 374.95,303.07 375.38,303.30 375.81,303.53 376.23,303.76 376.66,303.99 377.12,304.23 377.60,304.48 378.12,304.73 378.70,305.00 379.33,305.28 379.99,305.58 380.70,305.90 381.43,306.22 382.18,306.55 382.94,306.88 383.71,307.20 384.47,307.53 385.23,307.84 385.98,308.14 386.70,308.43 387.40,308.70 388.10,308.96 388.82,309.22 389.56,309.47 390.30,309.71 391.03,309.95 391.74,310.18 392.43,310.40 393.07,310.60 393.66,310.78 394.19,310.94 394.64,311.08 395.00,311.20"/>
<polyline fill="none" stroke="#7a2a1e" stroke-width="0.9" points="50.00,372.90 51.30,372.37 52.93,371.71 54.84,370.93 56.98,370.06 59.31,369.11 61.78,368.11 64.35,367.06 66.96,366.00 69.58,364.93 72.16,363.88 74.65,362.86 77.00,361.90 79.27,360.97 81.55,360.03 83.84,359.09 86.13,358.15 88.42,357.21 90.72,356.26 93.02,355.32 95.31,354.37 97.61,353.42 99.91,352.48 102.21,351.54 104.50,350.60 106.83,349.65 109.24,348.66 111.69,347.66 114.17,346.66 116.64,345.65 119.09,344.65 121.50,343.67 123.83,342.72 126.07,341.81 128.20,340.95 130.18,340.14 132.00,339.40 133.64,338.73 135.11,338.13 136.45,337.59 137.67,337.09 138.79,336.63 139.84,336.20 140.85,335.79 141.83,335.39 142.82,334.99 143.82,334.58 144.88,334.15 146.00,333.70 147.18,333.22 148.37,332.74 149.57,332.25 150.79,331.75 152.00,331.26 153.20,330.77 154.39,330.29 155.57,329.81 156.72,329.36 157.85,328.92 158.95,328.50 160.00,328.10 160.99,327.74 161.91,327.41 162.77,327.12 163.60,326.84 164.40,326.58 165.19,326.33 166.00,326.08 166.84,325.81 167.72,325.53 168.66,325.22 169.68,324.88 170.80,324.50 172.02,324.08 173.34,323.62 174.74,323.14 176.20,322.64 177.70,322.12 179.24,321.59 180.78,321.05 182.32,320.50 183.84,319.96 185.32,319.43 186.75,318.91 188.10,318.40 189.40,317.90 190.66,317.41 191.90,316.91 193.12,316.42 194.31,315.93 195.49,315.44 196.65,314.96 197.79,314.48 198.93,314.00 200.06,313.53 201.18,313.06 202.30,312.60 203.42,312.14 204.55,311.67 205.67,311.20 206.79,310.73 207.90,310.26 208.99,309.80 210.07,309.35 211.12,308.92 212.14,308.50 213.13,308.11 214.09,307.74 215.00,307.40 215.84,307.11 216.59,306.86 217.28,306.66 217.91,306.49 218.52,306.33 219.12,306.19 219.74,306.04 220.39,305.87 221.08,305.67 221.86,305.43 222.72,305.15 223.70,304.80 224.78,304.38 225.93,303.90 227.15,303.38 228.43,302.81 229.77,302.21 231.14,301.60 232.56,300.98 234.01,300.37 235.49,299.78 236.98,299.21 238.49,298.68 240.00,298.20 241.54,297.76 243.12,297.32 244.74,296.91 246.39,296.50 248.07,296.12 249.77,295.75 251.48,295.40 253.20,295.07 254.91,294.77 256.62,294.49 258.32,294.23 260.00,294.00 261.68,293.80 263.39,293.62 265.12,293.47 266.85,293.34 268.59,293.24 270.31,293.16 272.02,293.09 273.70,293.04 275.35,293.01 276.96,293.00 278.51,292.99 280.00,293.00 281.43,293.03 282.80,293.08 284.12,293.16 285.40,293.25 286.65,293.36 287.87,293.49 289.07,293.62 290.25,293.76 291.43,293.90 292.61,294.04 293.80,294.17 295.00,294.30 296.21,294.42 297.42,294.53 298.62,294.64 299.81,294.74 301.00,294.85 302.18,294.97 303.36,295.09 304.52,295.22 305.68,295.37 306.83,295.53 307.97,295.70 309.10,295.90 310.21,296.11 311.28,296.33 312.33,296.55 313.36,296.79 314.39,297.04 315.41,297.30 316.44,297.58 317.49,297.88 318.56,298.20 319.67,298.54 320.81,298.91 322.00,299.30 323.26,299.73 324.58,300.21 325.95,300.72 327.37,301.26 328.80,301.82 330.25,302.39 331.69,302.97 333.11,303.55 334.50,304.12 335.83,304.67 337.11,305.20 338.30,305.70 339.42,306.17 340.50,306.61 341.53,307.04 342.52,307.46 343.48,307.86 344.41,308.26 345.31,308.66 346.19,309.07 347.05,309.48 347.91,309.90 348.75,310.34 349.60,310.80 350.43,311.28 351.24,311.76 352.02,312.25 352.78,312.76 353.52,313.26 354.26,313.78 354.98,314.30 355.70,314.83 356.42,315.37 357.14,315.91 357.86,316.45 358.60,317.00 359.34,317.56 360.08,318.14 360.82,318.73 361.56,319.34 362.29,319.95 363.02,320.56 363.76,321.16 364.49,321.76 365.22,322.35 365.95,322.92 366.67,323.47 367.40,324.00 368.11,324.50 368.81,324.98 369.50,325.44 370.18,325.88 370.86,326.31 371.54,326.73 372.23,327.15 372.93,327.57 373.66,327.99 374.41,328.41 375.19,328.85 376.00,329.30 376.86,329.77 377.78,330.25 378.74,330.74 379.73,331.24 380.74,331.74 381.76,332.24 382.78,332.74 383.78,333.23 384.75,333.70 385.69,334.16 386.57,334.59 387.40,335.00 388.19,335.40 388.97,335.79 389.75,336.17 390.50,336.55 391.22,336.91 391.91,337.26 392.56,337.58 393.17,337.89 393.72,338.16 394.22,338.41 394.64,338.62 395.00,338.80"/>
<polyline fill="none" stroke="#0000ff" stroke-width="1.5" points="156.00,364.00 156.42,363.37 156.95,362.56 157.58,361.61 158.29,360.54 159.05,359.39 159.86,358.17 160.68,356.92 161.51,355.67 162.33,354.44 163.11,353.27 163.84,352.18 164.50,351.20 165.10,350.32 165.66,349.48 166.19,348.69 166.70,347.94 167.20,347.21 167.69,346.49 168.17,345.79 168.66,345.09 169.16,344.37 169.68,343.64 170.23,342.89 170.80,342.10 171.40,341.29 172.01,340.48 172.63,339.66 173.26,338.84 173.90,338.01 174.56,337.17 175.22,336.32 175.90,335.45 176.58,334.56 177.28,333.66 177.98,332.74 178.70,331.80 179.43,330.84 180.18,329.86 180.94,328.87 181.72,327.86 182.51,326.83 183.30,325.79 184.10,324.74 184.90,323.66 185.71,322.57 186.51,321.47 187.31,320.34 188.10,319.20 188.89,318.03 189.68,316.83 190.47,315.60 191.26,314.35 192.05,313.08 192.84,311.80 193.64,310.51 194.43,309.23 195.22,307.95 196.02,306.68 196.81,305.43 197.60,304.20 198.41,302.96 199.24,301.69 200.10,300.40 200.96,299.10 201.83,297.81 202.68,296.53 203.52,295.29 204.33,294.09 205.10,292.95 205.82,291.88 206.49,290.89 207.10,290.00 207.62,289.24 208.05,288.62 208.40,288.11 208.70,287.69 208.96,287.32 209.20,286.98 209.44,286.65 209.70,286.29 210.00,285.89 210.35,285.40 210.78,284.82 211.30,284.10 211.91,283.24 212.60,282.27 213.36,281.21 214.16,280.08 215.00,278.89 215.86,277.68 216.74,276.46 217.61,275.26 218.46,274.09 219.29,272.97 220.07,271.94 220.80,271.00 221.47,270.16 222.11,269.38 222.71,268.65 223.29,267.97 223.85,267.33 224.40,266.71 224.95,266.11 225.51,265.51 226.09,264.92 226.69,264.30 227.33,263.67 228.00,263.00 228.70,262.31 229.42,261.61 230.15,260.91 230.90,260.20 231.66,259.49 232.44,258.78 233.24,258.07 234.06,257.35 234.89,256.64 235.74,255.92 236.61,255.21 237.50,254.50 238.41,253.78 239.34,253.04 240.29,252.30 241.25,251.54 242.24,250.79 243.24,250.04 244.26,249.30 245.29,248.58 246.35,247.89 247.41,247.22 248.50,246.59 249.60,246.00 250.74,245.44 251.93,244.91 253.16,244.39 254.41,243.90 255.69,243.43 256.97,242.98 258.24,242.56 259.50,242.17 260.72,241.81 261.90,241.47 263.03,241.17 264.10,240.90 265.10,240.67 266.03,240.47 266.92,240.31 267.76,240.18 268.58,240.08 269.38,240.00 270.16,239.95 270.95,239.91 271.75,239.89 272.56,239.89 273.41,239.89 274.30,239.90 275.23,239.93 276.19,239.97 277.18,240.04 278.19,240.13 279.21,240.24 280.22,240.36 281.24,240.49 282.24,240.62 283.23,240.76 284.19,240.91 285.11,241.06 286.00,241.20 286.84,241.35 287.65,241.50 288.43,241.66 289.18,241.83 289.91,242.00 290.63,242.17 291.34,242.36 292.06,242.54 292.77,242.73 293.50,242.92 294.24,243.11 295.00,243.30 295.76,243.48 296.51,243.65 297.24,243.81 297.97,243.96 298.71,244.12 299.46,244.28 300.22,244.46 301.01,244.66 301.84,244.89 302.71,245.15 303.63,245.45 304.60,245.80 305.64,246.19 306.73,246.62 307.88,247.08 309.07,247.57 310.29,248.09 311.54,248.64 312.80,249.20 314.08,249.78 315.35,250.38 316.62,250.98 317.87,251.59 319.10,252.20 320.31,252.82 321.51,253.45 322.70,254.09 323.90,254.74 325.09,255.41 326.29,256.09 327.49,256.78 328.70,257.49 329.93,258.22 331.17,258.96 332.42,259.72 333.70,260.50 335.01,261.30 336.34,262.14 337.71,263.00 339.09,263.88 340.48,264.78 341.88,265.69 343.28,266.60 344.67,267.52 346.04,268.43 347.39,269.34 348.71,270.23 350.00,271.10 351.25,271.95 352.47,272.78 353.67,273.59 354.84,274.39 356.01,275.18 357.16,275.98 358.30,276.79 359.44,277.61 360.59,278.46 361.75,279.34 362.91,280.25 364.10,281.20 365.32,282.21 366.57,283.27 367.85,284.38 369.15,285.53 370.45,286.69 371.74,287.87 373.01,289.04 374.25,290.21 375.45,291.35 376.60,292.45 377.69,293.50 378.70,294.50 379.66,295.47 380.59,296.45 381.49,297.43 382.36,298.39 383.18,299.33 383.96,300.23 384.69,301.09 385.36,301.89 385.98,302.62 386.52,303.27 387.00,303.84 387.40,304.30"/>
</g>
<path d="M72.40 351.60 v-6.2 M72.40 36.30 v6.2 M104.01 351.60 v-3.3 M104.01 36.30 v3.3 M122.50 351.60 v-3.3 M122.50 36.30 v3.3 M135.62 351.60 v-3.3 M135.62 36.30 v3.3 M145.79 351.60 v-3.3 M145.79 36.30 v3.3 M154.11 351.60 v-3.3 M154.11 36.30 v3.3 M161.14 351.60 v-3.3 M161.14 36.30 v3.3 M167.22 351.60 v-3.3 M167.22 36.30 v3.3 M172.60 351.60 v-3.3 M172.60 36.30 v3.3 M177.40 351.60 v-6.2 M177.40 36.30 v6.2 M209.01 351.60 v-3.3 M209.01 36.30 v3.3 M227.50 351.60 v-3.3 M227.50 36.30 v3.3 M240.62 351.60 v-3.3 M240.62 36.30 v3.3 M250.79 351.60 v-3.3 M250.79 36.30 v3.3 M259.11 351.60 v-3.3 M259.11 36.30 v3.3 M266.14 351.60 v-3.3 M266.14 36.30 v3.3 M272.22 351.60 v-3.3 M272.22 36.30 v3.3 M277.60 351.60 v-3.3 M277.60 36.30 v3.3 M282.40 351.60 v-6.2 M282.40 36.30 v6.2 M314.01 351.60 v-3.3 M314.01 36.30 v3.3 M332.50 351.60 v-3.3 M332.50 36.30 v3.3 M345.62 351.60 v-3.3 M345.62 36.30 v3.3 M355.79 351.60 v-3.3 M355.79 36.30 v3.3 M364.11 351.60 v-3.3 M364.11 36.30 v3.3 M371.14 351.60 v-3.3 M371.14 36.30 v3.3 M377.22 351.60 v-3.3 M377.22 36.30 v3.3 M382.60 351.60 v-3.3 M382.60 36.30 v3.3 M387.40 351.60 v-6 M387.40 36.30 v6 M68.20 351.60 h10.4 M387.40 351.60 h-6.2 M72.40 344.82 h2.9 M387.40 344.82 h-2.9 M72.40 340.85 h2.9 M387.40 340.85 h-2.9 M72.40 338.04 h2.9 M387.40 338.04 h-2.9 M72.40 335.86 h2.9 M387.40 335.86 h-2.9 M72.40 334.07 h2.9 M387.40 334.07 h-2.9 M72.40 332.57 h2.9 M387.40 332.57 h-2.9 M72.40 331.26 h2.9 M387.40 331.26 h-2.9 M72.40 330.11 h2.9 M387.40 330.11 h-2.9 M72.40 329.08 h5.4 M387.40 329.08 h-6.2 M72.40 322.30 h2.9 M387.40 322.30 h-2.9 M72.40 318.33 h2.9 M387.40 318.33 h-2.9 M72.40 315.52 h2.9 M387.40 315.52 h-2.9 M72.40 313.34 h2.9 M387.40 313.34 h-2.9 M72.40 311.55 h2.9 M387.40 311.55 h-2.9 M72.40 310.05 h2.9 M387.40 310.05 h-2.9 M72.40 308.74 h2.9 M387.40 308.74 h-2.9 M72.40 307.59 h2.9 M387.40 307.59 h-2.9 M68.20 306.56 h10.4 M387.40 306.56 h-6.2 M72.40 299.78 h2.9 M387.40 299.78 h-2.9 M72.40 295.81 h2.9 M387.40 295.81 h-2.9 M72.40 293.00 h2.9 M387.40 293.00 h-2.9 M72.40 290.82 h2.9 M387.40 290.82 h-2.9 M72.40 289.03 h2.9 M387.40 289.03 h-2.9 M72.40 287.52 h2.9 M387.40 287.52 h-2.9 M72.40 286.22 h2.9 M387.40 286.22 h-2.9 M72.40 285.07 h2.9 M387.40 285.07 h-2.9 M72.40 284.04 h5.4 M387.40 284.04 h-6.2 M72.40 277.26 h2.9 M387.40 277.26 h-2.9 M72.40 273.29 h2.9 M387.40 273.29 h-2.9 M72.40 270.48 h2.9 M387.40 270.48 h-2.9 M72.40 268.29 h2.9 M387.40 268.29 h-2.9 M72.40 266.51 h2.9 M387.40 266.51 h-2.9 M72.40 265.00 h2.9 M387.40 265.00 h-2.9 M72.40 263.70 h2.9 M387.40 263.70 h-2.9 M72.40 262.54 h2.9 M387.40 262.54 h-2.9 M68.20 261.51 h10.4 M387.40 261.51 h-6.2 M72.40 254.73 h2.9 M387.40 254.73 h-2.9 M72.40 250.77 h2.9 M387.40 250.77 h-2.9 M72.40 247.96 h2.9 M387.40 247.96 h-2.9 M72.40 245.77 h2.9 M387.40 245.77 h-2.9 M72.40 243.99 h2.9 M387.40 243.99 h-2.9 M72.40 242.48 h2.9 M387.40 242.48 h-2.9 M72.40 241.18 h2.9 M387.40 241.18 h-2.9 M72.40 240.02 h2.9 M387.40 240.02 h-2.9 M72.40 238.99 h5.4 M387.40 238.99 h-6.2 M72.40 232.21 h2.9 M387.40 232.21 h-2.9 M72.40 228.25 h2.9 M387.40 228.25 h-2.9 M72.40 225.43 h2.9 M387.40 225.43 h-2.9 M72.40 223.25 h2.9 M387.40 223.25 h-2.9 M72.40 221.47 h2.9 M387.40 221.47 h-2.9 M72.40 219.96 h2.9 M387.40 219.96 h-2.9 M72.40 218.65 h2.9 M387.40 218.65 h-2.9 M72.40 217.50 h2.9 M387.40 217.50 h-2.9 M68.20 216.47 h10.4 M387.40 216.47 h-6.2 M72.40 209.69 h2.9 M387.40 209.69 h-2.9 M72.40 205.73 h2.9 M387.40 205.73 h-2.9 M72.40 202.91 h2.9 M387.40 202.91 h-2.9 M72.40 200.73 h2.9 M387.40 200.73 h-2.9 M72.40 198.95 h2.9 M387.40 198.95 h-2.9 M72.40 197.44 h2.9 M387.40 197.44 h-2.9 M72.40 196.13 h2.9 M387.40 196.13 h-2.9 M72.40 194.98 h2.9 M387.40 194.98 h-2.9 M72.40 193.95 h5.4 M387.40 193.95 h-6.2 M72.40 187.17 h2.9 M387.40 187.17 h-2.9 M72.40 183.20 h2.9 M387.40 183.20 h-2.9 M72.40 180.39 h2.9 M387.40 180.39 h-2.9 M72.40 178.21 h2.9 M387.40 178.21 h-2.9 M72.40 176.42 h2.9 M387.40 176.42 h-2.9 M72.40 174.92 h2.9 M387.40 174.92 h-2.9 M72.40 173.61 h2.9 M387.40 173.61 h-2.9 M72.40 172.46 h2.9 M387.40 172.46 h-2.9 M68.20 171.43 h10.4 M387.40 171.43 h-6.2 M72.40 164.65 h2.9 M387.40 164.65 h-2.9 M72.40 160.68 h2.9 M387.40 160.68 h-2.9 M72.40 157.87 h2.9 M387.40 157.87 h-2.9 M72.40 155.69 h2.9 M387.40 155.69 h-2.9 M72.40 153.90 h2.9 M387.40 153.90 h-2.9 M72.40 152.40 h2.9 M387.40 152.40 h-2.9 M72.40 151.09 h2.9 M387.40 151.09 h-2.9 M72.40 149.94 h2.9 M387.40 149.94 h-2.9 M72.40 148.91 h5.4 M387.40 148.91 h-6.2 M72.40 142.13 h2.9 M387.40 142.13 h-2.9 M72.40 138.16 h2.9 M387.40 138.16 h-2.9 M72.40 135.35 h2.9 M387.40 135.35 h-2.9 M72.40 133.17 h2.9 M387.40 133.17 h-2.9 M72.40 131.38 h2.9 M387.40 131.38 h-2.9 M72.40 129.87 h2.9 M387.40 129.87 h-2.9 M72.40 128.57 h2.9 M387.40 128.57 h-2.9 M72.40 127.42 h2.9 M387.40 127.42 h-2.9 M68.20 126.39 h10.4 M387.40 126.39 h-6.2 M72.40 119.61 h2.9 M387.40 119.61 h-2.9 M72.40 115.64 h2.9 M387.40 115.64 h-2.9 M72.40 112.83 h2.9 M387.40 112.83 h-2.9 M72.40 110.64 h2.9 M387.40 110.64 h-2.9 M72.40 108.86 h2.9 M387.40 108.86 h-2.9 M72.40 107.35 h2.9 M387.40 107.35 h-2.9 M72.40 106.05 h2.9 M387.40 106.05 h-2.9 M72.40 104.89 h2.9 M387.40 104.89 h-2.9 M72.40 103.86 h5.4 M387.40 103.86 h-6.2 M72.40 97.08 h2.9 M387.40 97.08 h-2.9 M72.40 93.12 h2.9 M387.40 93.12 h-2.9 M72.40 90.31 h2.9 M387.40 90.31 h-2.9 M72.40 88.12 h2.9 M387.40 88.12 h-2.9 M72.40 86.34 h2.9 M387.40 86.34 h-2.9 M72.40 84.83 h2.9 M387.40 84.83 h-2.9 M72.40 83.53 h2.9 M387.40 83.53 h-2.9 M72.40 82.37 h2.9 M387.40 82.37 h-2.9 M68.20 81.34 h10.4 M387.40 81.34 h-6.2 M72.40 74.56 h2.9 M387.40 74.56 h-2.9 M72.40 70.60 h2.9 M387.40 70.60 h-2.9 M72.40 67.78 h2.9 M387.40 67.78 h-2.9 M72.40 65.60 h2.9 M387.40 65.60 h-2.9 M72.40 63.82 h2.9 M387.40 63.82 h-2.9 M72.40 62.31 h2.9 M387.40 62.31 h-2.9 M72.40 61.00 h2.9 M387.40 61.00 h-2.9 M72.40 59.85 h2.9 M387.40 59.85 h-2.9 M72.40 58.82 h5.4 M387.40 58.82 h-6.2 M72.40 52.04 h2.9 M387.40 52.04 h-2.9 M72.40 48.08 h2.9 M387.40 48.08 h-2.9 M72.40 45.26 h2.9 M387.40 45.26 h-2.9 M72.40 43.08 h2.9 M387.40 43.08 h-2.9 M72.40 41.30 h2.9 M387.40 41.30 h-2.9 M72.40 39.79 h2.9 M387.40 39.79 h-2.9 M72.40 38.48 h2.9 M387.40 38.48 h-2.9 M72.40 37.33 h2.9 M387.40 37.33 h-2.9 M68.20 36.30 h10.4 M387.40 36.30 h-6.2" stroke="#000" stroke-width="1" fill="none"/>
<rect x="72.40" y="36.30" width="315.00" height="315.30" fill="none" stroke="#1a1a1a" stroke-width="0.9"/>
<text transform="translate(46.00,359.10) scale(0.840,1)" font-family="Liberation Sans, sans-serif" font-size="15.80" text-anchor="end" fill="#000"  stroke="#000" stroke-width="0.30">10</text>
<text transform="translate(46.70,351.70) scale(1.010,1)" font-family="Liberation Sans, sans-serif" font-size="10.30" text-anchor="start" fill="#000"  stroke="#000" stroke-width="0.20">−16</text>
<text transform="translate(46.00,314.06) scale(0.840,1)" font-family="Liberation Sans, sans-serif" font-size="15.80" text-anchor="end" fill="#000"  stroke="#000" stroke-width="0.30">10</text>
<text transform="translate(46.70,306.66) scale(1.010,1)" font-family="Liberation Sans, sans-serif" font-size="10.30" text-anchor="start" fill="#000"  stroke="#000" stroke-width="0.20">−14</text>
<text transform="translate(46.00,269.01) scale(0.840,1)" font-family="Liberation Sans, sans-serif" font-size="15.80" text-anchor="end" fill="#000"  stroke="#000" stroke-width="0.30">10</text>
<text transform="translate(46.70,261.61) scale(1.010,1)" font-family="Liberation Sans, sans-serif" font-size="10.30" text-anchor="start" fill="#000"  stroke="#000" stroke-width="0.20">−12</text>
<text transform="translate(46.00,223.97) scale(0.840,1)" font-family="Liberation Sans, sans-serif" font-size="15.80" text-anchor="end" fill="#000"  stroke="#000" stroke-width="0.30">10</text>
<text transform="translate(46.70,216.57) scale(1.010,1)" font-family="Liberation Sans, sans-serif" font-size="10.30" text-anchor="start" fill="#000"  stroke="#000" stroke-width="0.20">−10</text>
<text transform="translate(52.10,178.93) scale(0.840,1)" font-family="Liberation Sans, sans-serif" font-size="15.80" text-anchor="end" fill="#000"  stroke="#000" stroke-width="0.30">10</text>
<text transform="translate(53.30,171.53) scale(0.970,1)" font-family="Liberation Sans, sans-serif" font-size="10.30" text-anchor="start" fill="#000"  stroke="#000" stroke-width="0.20">−8</text>
<text transform="translate(52.10,133.89) scale(0.840,1)" font-family="Liberation Sans, sans-serif" font-size="15.80" text-anchor="end" fill="#000"  stroke="#000" stroke-width="0.30">10</text>
<text transform="translate(53.30,126.49) scale(0.970,1)" font-family="Liberation Sans, sans-serif" font-size="10.30" text-anchor="start" fill="#000"  stroke="#000" stroke-width="0.20">−6</text>
<text transform="translate(52.10,88.84) scale(0.840,1)" font-family="Liberation Sans, sans-serif" font-size="15.80" text-anchor="end" fill="#000"  stroke="#000" stroke-width="0.30">10</text>
<text transform="translate(53.30,81.44) scale(0.970,1)" font-family="Liberation Sans, sans-serif" font-size="10.30" text-anchor="start" fill="#000"  stroke="#000" stroke-width="0.20">−4</text>
<text transform="translate(52.10,43.80) scale(0.840,1)" font-family="Liberation Sans, sans-serif" font-size="15.80" text-anchor="end" fill="#000"  stroke="#000" stroke-width="0.30">10</text>
<text transform="translate(53.30,36.40) scale(0.970,1)" font-family="Liberation Sans, sans-serif" font-size="10.30" text-anchor="start" fill="#000"  stroke="#000" stroke-width="0.20">−2</text>
<text transform="translate(71.00,367.90) scale(0.920,1)" font-family="Liberation Sans, sans-serif" font-size="15.20" text-anchor="middle" fill="#000"  stroke="#000" stroke-width="0.30">0.1</text>
<text transform="translate(176.90,367.90) scale(0.920,1)" font-family="Liberation Sans, sans-serif" font-size="15.20" text-anchor="middle" fill="#000"  stroke="#000" stroke-width="0.30">1</text>
<text transform="translate(282.90,367.90) scale(0.920,1)" font-family="Liberation Sans, sans-serif" font-size="15.20" text-anchor="middle" fill="#000"  stroke="#000" stroke-width="0.30">10</text>
<text transform="translate(388.10,367.90) scale(0.920,1)" font-family="Liberation Sans, sans-serif" font-size="15.20" text-anchor="middle" fill="#000"  stroke="#000" stroke-width="0.30">100</text>
<text transform="translate(196.60,385.75) scale(0.950,1)" font-family="Liberation Sans, sans-serif" font-size="15.00" text-anchor="start" fill="#000"  stroke="#000" stroke-width="0.30">T</text>
<text transform="translate(214.00,385.75) scale(0.950,1)" font-family="Liberation Sans, sans-serif" font-size="15.00" text-anchor="start" fill="#000"  stroke="#000" stroke-width="0.30">[GeV/n]</text>
<text transform="translate(20.80,194.20) rotate(-90.00) scale(1.035,1)" font-family="Liberation Sans, sans-serif" font-size="14.50" text-anchor="middle" fill="#000"  stroke="#000" stroke-width="0.30">ϕ [(m<tspan dy="-5.5" font-size="10">2</tspan><tspan dy="5.5">s sr (GeV/n))</tspan><tspan dy="-6.5" font-size="10">−1</tspan><tspan dy="6.5">]</tspan></text>
<text transform="translate(84.60,22.25) scale(1.035,1)" font-family="Liberation Sans, sans-serif" font-size="11.00" text-anchor="start" fill="#000"  stroke="#000" stroke-width="0.20">DM DM</text>
<path d="M129.5 19 H139.3 M136.3 16.6 L139.6 19 L136.3 21.4" stroke="#000" stroke-width="0.8" fill="none"/>
<text transform="translate(147.00,22.25)" font-family="Liberation Sans, sans-serif" font-size="11.00" text-anchor="start" fill="#000" font-style="italic" stroke="#000" stroke-width="0.20">W</text>
<text transform="translate(158.70,18.05)" font-family="Liberation Sans, sans-serif" font-size="7.50" text-anchor="start" fill="#000"  stroke="#000" stroke-width="0.20">+</text>
<text transform="translate(163.00,22.25)" font-family="Liberation Sans, sans-serif" font-size="11.00" text-anchor="start" fill="#000" font-style="italic" stroke="#000" stroke-width="0.20">W</text>
<text transform="translate(175.80,18.05)" font-family="Liberation Sans, sans-serif" font-size="7.50" text-anchor="start" fill="#000"  stroke="#000" stroke-width="0.20">−</text>
<text transform="translate(196.50,22.25)" font-family="Liberation Sans, sans-serif" font-size="11.00" text-anchor="start" fill="#000"  stroke="#000" stroke-width="0.20">m</text>
<text transform="translate(205.20,24.55)" font-family="Liberation Sans, sans-serif" font-size="8.20" text-anchor="start" fill="#000"  stroke="#000" stroke-width="0.20">DM</text>
<text transform="translate(222.00,22.25) scale(1.010,1)" font-family="Liberation Sans, sans-serif" font-size="11.00" text-anchor="start" fill="#000"  stroke="#000" stroke-width="0.20">= 1000</text>
<text transform="translate(260.00,22.25) scale(1.050,1)" font-family="Liberation Sans, sans-serif" font-size="11.00" text-anchor="start" fill="#000"  stroke="#000" stroke-width="0.20">GeV</text>
<text transform="translate(305.20,22.25)" font-family="Liberation Sans, sans-serif" font-size="11.00" text-anchor="start" fill="#000"  stroke="#000" stroke-width="0.20">p</text>
<text transform="translate(311.60,24.55)" font-family="Liberation Sans, sans-serif" font-size="8.20" text-anchor="start" fill="#000"  stroke="#000" stroke-width="0.20">0</text>
<text transform="translate(319.50,22.25) scale(1.020,1)" font-family="Liberation Sans, sans-serif" font-size="11.00" text-anchor="start" fill="#000"  stroke="#000" stroke-width="0.20">= 195</text>
<text transform="translate(351.20,22.25) scale(1.010,1)" font-family="Liberation Sans, sans-serif" font-size="11.00" text-anchor="start" fill="#000"  stroke="#000" stroke-width="0.20">MeV</text>
<text transform="translate(307.00,58.20)" font-family="Liberation Sans, sans-serif" font-size="11.30" text-anchor="middle" fill="#0a0a0a"  stroke="#0a0a0a" stroke-width="0.20">&lt;σv&gt; = 3x10<tspan dy="-5" font-size="8">−25</tspan><tspan dy="5"> cm</tspan><tspan dy="-5" font-size="8">3</tspan><tspan dy="5">s</tspan><tspan dy="-5" font-size="8">−1</tspan></text>
<text transform="translate(299.20,73.10)" font-family="Liberation Sans, sans-serif" font-size="11.40" text-anchor="middle" fill="#0a0a0a"  stroke="#0a0a0a" stroke-width="0.20">EIN profile</text>
<text transform="translate(124.00,63.80) rotate(11.50) scale(0.975,1)" font-family="Liberation Sans, sans-serif" font-size="9.90" text-anchor="start" fill="#222" font-style="italic" stroke="#222" stroke-width="0.20">AMS−01 excluded</text>
<text transform="translate(124.30,75.70) rotate(11.50) scale(0.975,1)" font-family="Liberation Sans, sans-serif" font-size="9.90" text-anchor="start" fill="#222" font-style="italic" stroke="#222" stroke-width="0.20">PAMELA excluded</text>
<text transform="translate(129.80,92.50) rotate(11.50) scale(0.975,1)" font-family="Liberation Sans, sans-serif" font-size="9.90" text-anchor="start" fill="#222" font-style="italic" stroke="#222" stroke-width="0.20">BESS excluded</text>
<text transform="translate(131.00,144.00) rotate(11.00) scale(0.995,1)" font-family="Liberation Sans, sans-serif" font-size="9.90" text-anchor="start" fill="#2f4f4f" font-style="italic" stroke="#2f4f4f" stroke-width="0.20">AMS−02 reach</text>
<text transform="translate(302.00,236.70) rotate(31.50) scale(0.960,1)" font-family="Liberation Sans, sans-serif" font-size="10.00" text-anchor="start" fill="#0000ff" font-style="italic" stroke="#0000ff" stroke-width="0.20">bkg, p<tspan dy="2" font-size="7">0</tspan><tspan dy="-2"> = 167 MeV</tspan></text>
<text transform="translate(250.30,264.50)" font-family="Liberation Sans, sans-serif" font-size="10.00" text-anchor="start" fill="#000"  stroke="#000" stroke-width="0.12">MAX</text>
<text transform="translate(250.30,280.00)" font-family="Liberation Sans, sans-serif" font-size="10.00" text-anchor="start" fill="#000"  stroke="#000" stroke-width="0.12">MED</text>
<text transform="translate(251.80,295.80)" font-family="Liberation Sans, sans-serif" font-size="10.00" text-anchor="start" fill="#000"  stroke="#000" stroke-width="0.12">MIN</text>
</svg>
</body></html>
